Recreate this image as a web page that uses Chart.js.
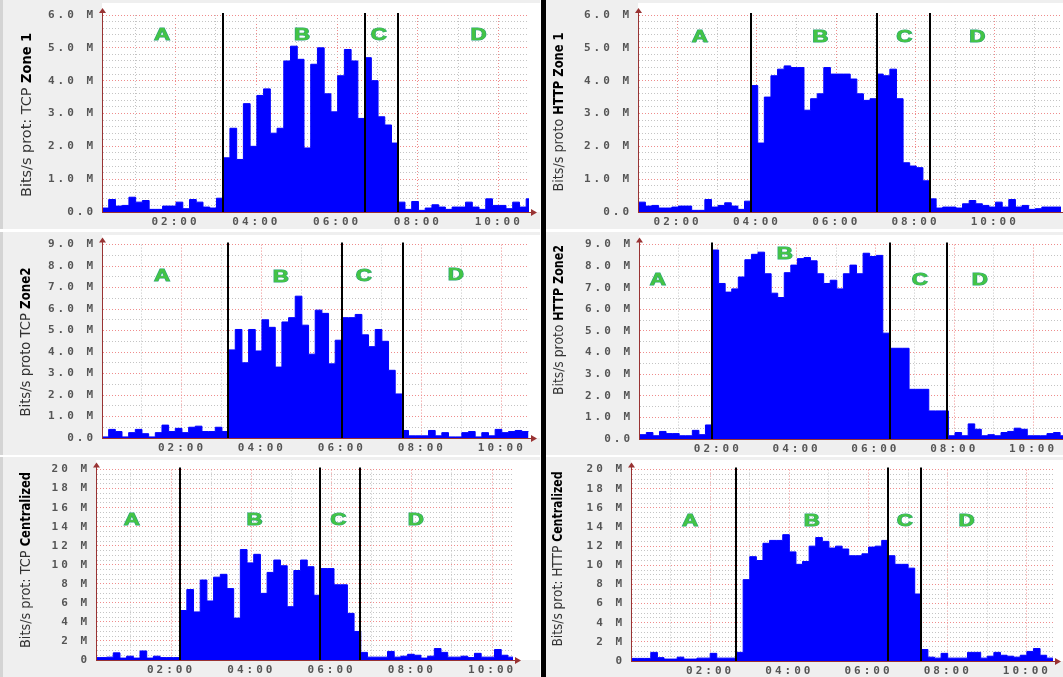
<!DOCTYPE html>
<html>
<head>
<meta charset="utf-8">
<title>Bits/s per zone</title>
<script src="https://cdn.jsdelivr.net/npm/chart.js@4.4.1/dist/chart.umd.min.js"></script>
<style>
  body { margin: 0; background: #fff; }
  #sheet { position: relative; width: 1063px; height: 677px; overflow: hidden; background: #fff; }
  .panel { position: absolute; background: #efefef; }
  .panel canvas { position: absolute; left: 0; top: 0; }
  .strip { position: absolute; left: 0; top: 0; width: 3px; height: 100%; background: #d4d4d4; }
  #divider { position: absolute; left: 541px; top: 0; width: 5px; height: 677px; background: #000; }
</style>
</head>
<body>
<div id="sheet">
  <div class="panel" style="left:0;top:0;width:540px;height:229px"><canvas id="c1"></canvas><div class="strip"></div></div>
  <div class="panel" style="left:546px;top:0;width:517px;height:229px"><canvas id="c2"></canvas></div>
  <div class="panel" style="left:0;top:232px;width:540px;height:223px"><canvas id="c3"></canvas><div class="strip"></div></div>
  <div class="panel" style="left:546px;top:232px;width:517px;height:223px"><canvas id="c4"></canvas></div>
  <div class="panel" style="left:0;top:457px;width:540px;height:220px"><canvas id="c5"></canvas><div class="strip"></div></div>
  <div class="panel" style="left:546px;top:457px;width:517px;height:220px"><canvas id="c6"></canvas></div>
  <div id="divider"></div>
</div>
<script>
// time axis is in hours, traffic is sampled in 10 minute bins, values in Mbit/s
const BIN = 1 / 6;
const phaseNames = ['A', 'B', 'C', 'D'];
const timeTicks = [2, 4, 6, 8, 10];
const timeTickText = ['02:00', '04:00', '06:00', '08:00', '10:00'];

// TCP Zone 1
const tcpZone1Start = 0.18;
const tcpZone1 = [
  0.12, 0.38, 0.18, 0.2, 0.45, 0.3, 0.35, 0.08, 0.08, 0.18, 0.18, 0.3, 0.1, 0.38, 0.3, 0.15, 0.12, 0.42,
  1.65, 2.55, 1.6, 3.3, 2.0, 3.55, 3.75, 2.4, 2.55, 4.6, 5.05, 4.65, 1.95, 4.5, 5.0, 3.6, 3.05, 4.15, 4.95, 4.6, 2.85,
  4.7, 4.0, 2.9, 2.65, 2.1,
  0.3, 0.08, 0.32, 0.05, 0.12, 0.22, 0.15, 0.08, 0.15, 0.15, 0.3, 0.15, 0.08, 0.4, 0.2, 0.2, 0.1, 0.3, 0.15, 0.4
];
const tcpZone1Phases = [3.18, 6.68, 7.51];
const tcpZone1LabelX = [1.67, 5.13, 7.03, 9.5];
const tcpZone1LabelY = [5.4, 5.4, 5.4, 5.4];

// HTTP Zone 1
const httpZone1Start = 1.02;
const httpZone1 = [
  0.3, 0.18, 0.2, 0.12, 0.12, 0.15, 0.18, 0.18, 0.05, 0.05, 0.38, 0.15, 0.2, 0.28, 0.18, 0.08, 0.33,
  3.85, 2.1, 3.5, 4.15, 4.35, 4.45, 4.4, 4.4, 3.1, 3.45, 3.6, 4.4, 4.2, 4.2, 4.2, 4.05, 3.6, 3.4, 3.45,
  4.2, 4.15, 4.35, 3.45, 1.5, 1.4, 1.35, 0.95,
  0.4, 0.12, 0.15, 0.15, 0.12, 0.25, 0.35, 0.25, 0.2, 0.15, 0.3, 0.15, 0.38, 0.15, 0.2, 0.08, 0.1, 0.15, 0.15, 0.15
];
const httpZone1Phases = [3.86, 7.03, 8.36];
const httpZone1LabelX = [2.56, 5.6, 7.72, 9.56];
const httpZone1LabelY = [5.33, 5.33, 5.33, 5.33];

// TCP Zone2
const tcpZone2Start = 0;
const tcpZone2 = [
  0.05, 0.4, 0.3, 0.05, 0.25, 0.4, 0.2, 0.05, 0.25, 0.6, 0.3, 0.45, 0.25, 0.5, 0.55, 0.3, 0.3, 0.5, 0.3,
  4.1, 5.05, 3.5, 5.05, 4.05, 5.5, 5.15, 3.3, 5.4, 5.6, 6.6, 5.25, 3.9, 5.95, 5.8, 3.45, 4.55,
  5.6, 5.6, 5.75, 4.8, 4.25, 5.05, 4.5, 3.15, 2.05,
  0.35, 0.1, 0.1, 0.1, 0.35, 0.1, 0.25, 0.05, 0.05, 0.25, 0.3, 0.05, 0.25, 0.1, 0.4, 0.25, 0.3, 0.35, 0.3
];
const tcpZone2Phases = [3.15, 6.0, 7.52];
const tcpZone2LabelX = [1.5, 4.47, 6.55, 8.85];
const tcpZone2LabelY = [7.55, 7.5, 7.55, 7.6];

// HTTP Zone2
const httpZone2Start = 0.02;
const httpZone2 = [
  0.2, 0.3, 0.15, 0.35, 0.25, 0.25, 0.15, 0.15, 0.4, 0.2, 0.65,
  8.75, 7.2, 6.8, 6.95, 7.5, 8.3, 8.55, 8.65, 7.65, 6.75, 6.55, 7.7, 8.05, 8.35, 8.4, 8.25, 7.65, 7.2, 7.35,
  6.95, 7.65, 8.05, 7.65, 8.6, 8.45, 8.5, 4.9,
  4.2, 4.2, 4.2, 2.3, 2.3, 2.3, 1.3, 1.3, 1.3,
  0.15, 0.3, 0.15, 0.7, 0.45, 0.15, 0.2, 0.15, 0.3, 0.35, 0.5, 0.45, 0.15, 0.15, 0.15, 0.25, 0.3, 0.15
];
const httpZone2Phases = [1.85, 6.36, 7.82];
const httpZone2LabelX = [0.48, 3.7, 7.13, 8.65];
const httpZone2LabelY = [7.4, 8.6, 7.4, 7.4];

// TCP Centralized
const tcpCentralStart = 0.06;
const tcpCentral = [
  0.25, 0.25, 0.3, 0.75, 0.2, 0.4, 0.2, 0.95, 0.2, 0.4, 0.25, 0.25, 0.25,
  5.2, 7.4, 5.05, 8.4, 6.2, 8.7, 9.0, 7.5, 4.4, 11.6, 10.2, 11.1, 7.0, 9.2, 10.5, 9.9, 5.6, 9.4, 10.5, 9.8, 6.8,
  9.6, 9.6, 7.9, 7.9, 4.9, 3.0,
  0.8, 0.3, 0.3, 0.3, 0.9, 0.3, 0.4, 0.6, 0.5, 0.2, 0.4, 1.2, 0.8, 0.3, 0.3, 0.4, 0.25, 0.7, 0.3, 0.3, 1.1, 0.5, 0.3
];
const tcpCentralPhases = [2.23, 5.71, 6.7];
const tcpCentralLabelX = [1.02, 4.08, 6.17, 8.1];
const tcpCentralLabelY = [14.7, 14.7, 14.7, 14.7];

// HTTP Centralized
const httpCentralStart = 0;
const httpCentral = [
  0.27, 0.27, 0.27, 0.9, 0.35, 0.2, 0.2, 0.4, 0.2, 0.2, 0.3, 0.3, 0.8, 0.3, 0.3, 0.3,
  0.9, 8.5, 10.9, 10.5, 12.3, 12.6, 12.6, 13.2, 11.4, 10.1, 10.4, 12.0, 12.9, 12.5, 11.8, 12.0, 11.7, 11.0,
  11.0, 11.2, 11.9, 12.0, 12.6,
  11.0, 10.1, 10.1, 9.7, 7.0,
  1.2, 0.4, 0.3, 0.8, 0.3, 0.3, 0.3, 0.9, 0.9, 0.3, 0.5, 0.9, 0.6, 0.5, 0.4, 0.6, 1.0, 1.3, 0.6, 0.3
];
const httpCentralPhases = [2.65, 6.5, 7.33];
const httpCentralLabelX = [1.49, 4.57, 6.92, 8.48];
const httpCentralLabelY = [14.7, 14.7, 14.7, 14.7];

// panel layout, in pixels local to each panel
const panels = [
  { id: 'c1', width: 540, height: 229, axisX: 102, plotTop: 15, zeroY: 212, plotRight: 529,
    xMin: 0.18, xMax: 10.75, yMax: 6, yMinor: 0.2, yLabelEvery: 1,
    start: tcpZone1Start, values: tcpZone1, phases: tcpZone1Phases, labelX: tcpZone1LabelX, labelY: tcpZone1LabelY,
    title: ['Bits/s prot: TCP ', 'Zone 1'], titleX: 27, titleMid: 115, titleLen: 164 },
  { id: 'c2', width: 517, height: 229, axisX: 92, plotTop: 15, zeroY: 212, plotRight: 515,
    xMin: 1.0, xMax: 11.67, yMax: 6, yMinor: 0.2, yLabelEvery: 1,
    start: httpZone1Start, values: httpZone1, phases: httpZone1Phases, labelX: httpZone1LabelX, labelY: httpZone1LabelY,
    title: ['Bits/s proto ', 'HTTP Zone 1'], titleX: 13, titleMid: 112, titleLen: 159 },
  { id: 'c3', width: 540, height: 223, axisX: 102, plotTop: 8, zeroY: 206, plotRight: 529,
    xMin: 0, xMax: 10.68, yMax: 9, yMinor: 0.5, yLabelEvery: 1,
    start: tcpZone2Start, values: tcpZone2, phases: tcpZone2Phases, labelX: tcpZone2LabelX, labelY: tcpZone2LabelY,
    title: ['Bits/s proto TCP ', 'Zone2'], titleX: 26, titleMid: 110, titleLen: 149 },
  { id: 'c4', width: 517, height: 223, axisX: 93, plotTop: 8, zeroY: 207, plotRight: 517,
    xMin: 0, xMax: 10.76, yMax: 9, yMinor: 0.5, yLabelEvery: 1,
    start: httpZone2Start, values: httpZone2, phases: httpZone2Phases, labelX: httpZone2LabelX, labelY: httpZone2LabelY,
    title: ['Bits/s proto ', 'HTTP Zone2'], titleX: 13, titleMid: 88, titleLen: 150 },
  { id: 'c5', width: 540, height: 220, axisX: 96, plotTop: 6, zeroY: 203, plotRight: 513,
    xMin: 0.13, xMax: 10.52, yMax: 20, yMinor: 0.5, yLabelEvery: 2,
    start: tcpCentralStart, values: tcpCentral, phases: tcpCentralPhases, labelX: tcpCentralLabelX, labelY: tcpCentralLabelY,
    title: ['Bits/s prot: TCP ', 'Centralized'], titleX: 26, titleMid: 103, titleLen: 176 },
  { id: 'c6', width: 517, height: 220, axisX: 85, plotTop: 6, zeroY: 204, plotRight: 507,
    xMin: 0, xMax: 10.66, yMax: 20, yMinor: 0.5, yLabelEvery: 2,
    start: httpCentralStart, values: httpCentral, phases: httpCentralPhases, labelX: httpCentralLabelX, labelY: httpCentralLabelY,
    title: ['Bits/s prot: HTTP ', 'Centralized'], titleX: 12, titleMid: 102, titleLen: 175 }
];

const RED_GRID = '#ef8c8c';
const GREY_GRID = '#c4c4c4';
const AXIS = '#993333';

function isWhole(v) {
  return Math.abs(v - Math.round(v)) < 1e-6;
}

function yTickText(p, v) {
  if (!isWhole(v)) return '';
  v = Math.round(v);
  if (v % p.yLabelEvery) return '';
  if (p.yMax > 10) return v === 0 ? '0' : v + ' M';
  return v === 0 ? '0.0' : v.toFixed(1) + ' M';
}

function xTickText(v) {
  const i = timeTicks.indexOf(Math.round(v));
  return (isWhole(v) && i >= 0) ? timeTickText[i] : '';
}

// white plot background, phase separators, phase letters, axis arrows, y title
const panelDecor = {
  id: 'panelDecor',
  beforeDraw(chart) {
    const ctx = chart.ctx;
    const area = chart.chartArea;
    ctx.save();
    ctx.fillStyle = '#ffffff';
    ctx.fillRect(area.left, 3, chart.width - area.left, area.bottom - 3);
    ctx.restore();
    // the tick labels of the original use a wide bitmap font
    ctx.letterSpacing = '3px';
  },
  beforeDatasetsDraw(chart) {
    chart.ctx.letterSpacing = '0px';
  },
  afterDatasetsDraw(chart) {
    const p = chart.options.plugins.panelDecor.panel;
    const ctx = chart.ctx;
    const area = chart.chartArea;
    const xs = chart.scales.x;
    const ys = chart.scales.y;

    ctx.save();
    // axes with arrows
    ctx.strokeStyle = AXIS;
    ctx.fillStyle = AXIS;
    ctx.lineWidth = 1;
    ctx.beginPath();
    ctx.moveTo(area.left + 0.5, area.bottom);
    ctx.lineTo(area.left + 0.5, area.top - 4);
    ctx.moveTo(area.left, area.bottom + 0.5);
    ctx.lineTo(area.right + 3, area.bottom + 0.5);
    ctx.stroke();
    ctx.beginPath();
    ctx.moveTo(area.left - 3, area.top - 2);
    ctx.lineTo(area.left + 4, area.top - 2);
    ctx.lineTo(area.left + 0.5, area.top - 7);
    ctx.closePath();
    ctx.fill();
    ctx.beginPath();
    ctx.moveTo(area.right + 2, area.bottom - 3);
    ctx.lineTo(area.right + 2, area.bottom + 4);
    ctx.lineTo(area.right + 8, area.bottom + 0.5);
    ctx.closePath();
    ctx.fill();

    // phase separators
    ctx.strokeStyle = '#000000';
    ctx.lineWidth = 2;
    p.phases.forEach(h => {
      const x = Math.round(xs.getPixelForValue(h));
      ctx.beginPath();
      ctx.moveTo(x, area.top - 2);
      ctx.lineTo(x, area.bottom);
      ctx.stroke();
    });

    // phase letters
    ctx.font = 'bold 16px "Liberation Sans", Arial, sans-serif';
    ctx.textAlign = 'center';
    ctx.textBaseline = 'middle';
    phaseNames.forEach((name, i) => {
      const x = xs.getPixelForValue(p.labelX[i]);
      const y = ys.getPixelForValue(p.labelY[i]);
      ctx.save();
      ctx.translate(x, y);
      ctx.scale(1.4, 1);
      ctx.lineWidth = 1;
      ctx.strokeStyle = '#2aa37a';
      ctx.strokeText(name, 0, 1);
      ctx.fillStyle = '#44c444';
      ctx.fillText(name, 0, 1);
      ctx.restore();
    });

    // y axis title: regular part then bold part, read bottom to top
    const normalFont = '14px "DejaVu Sans", sans-serif';
    const boldFont = 'bold 14px "DejaVu Sans Condensed", "Liberation Sans Narrow", "DejaVu Sans", sans-serif';
    ctx.font = normalFont;
    const w1 = ctx.measureText(p.title[0]).width;
    ctx.font = boldFont;
    const w2 = ctx.measureText(p.title[1]).width;
    const total = w1 + w2;
    ctx.translate(p.titleX, p.titleMid);
    ctx.rotate(-Math.PI / 2);
    ctx.scale(p.titleLen / total, 1);
    ctx.textAlign = 'left';
    ctx.textBaseline = 'middle';
    ctx.font = normalFont;
    ctx.fillStyle = '#333333';
    ctx.fillText(p.title[0], -total / 2, 0);
    ctx.font = boldFont;
    ctx.fillStyle = '#000000';
    ctx.fillText(p.title[1], -total / 2 + w1, 0);
    ctx.restore();
  }
};

function makeChart(p) {
  const canvas = document.getElementById(p.id);
  canvas.width = p.width;
  canvas.height = p.height;

  // each bin is held until the start of the next one
  const points = p.values.map((v, i) => ({ x: p.start + i * BIN, y: v }));
  points.push({ x: p.start + p.values.length * BIN, y: p.values[p.values.length - 1] });

  const tickFont = { family: '"DejaVu Sans Mono", monospace', size: 11, weight: 'bold' };

  return new Chart(canvas.getContext('2d'), {
    type: 'line',
    data: {
      datasets: [{
        data: points,
        stepped: true,
        fill: 'origin',
        backgroundColor: '#0000ff',
        borderColor: '#0000ff',
        borderWidth: 1,
        pointRadius: 0,
        tension: 0
      }]
    },
    options: {
      responsive: false,
      animation: false,
      events: [],
      layout: {
        padding: { left: 0, top: p.plotTop, right: p.width - p.plotRight, bottom: 0 }
      },
      plugins: {
        legend: { display: false },
        tooltip: { enabled: false },
        panelDecor: { panel: p }
      },
      scales: {
        x: {
          type: 'linear',
          min: p.xMin,
          max: p.xMax,
          afterFit: s => { s.height = p.height - p.zeroY; },
          grid: {
            color: c => (c.tick && isWhole(c.tick.value / 2)) ? RED_GRID : GREY_GRID,
            lineWidth: 1,
            drawTicks: false
          },
          border: { display: true, color: AXIS, dash: [1, 2] },
          ticks: {
            stepSize: 1,
            includeBounds: false,
            autoSkip: false,
            maxRotation: 0,
            minRotation: 0,
            padding: 4,
            color: '#555555',
            font: tickFont,
            callback: v => xTickText(v)
          }
        },
        y: {
          type: 'linear',
          min: 0,
          max: p.yMax,
          afterFit: s => { s.width = p.axisX; },
          grid: {
            color: c => (c.tick && isWhole(c.tick.value) && Math.round(c.tick.value) % p.yLabelEvery === 0) ? RED_GRID : GREY_GRID,
            lineWidth: 1,
            drawTicks: false
          },
          border: { display: true, color: AXIS, dash: [1, 2] },
          ticks: {
            stepSize: p.yMinor,
            autoSkip: false,
            padding: 6,
            color: '#555555',
            font: tickFont,
            callback: v => yTickText(p, v)
          }
        }
      }
    },
    plugins: [panelDecor]
  });
}

panels.forEach(makeChart);
</script>
</body>
</html>
